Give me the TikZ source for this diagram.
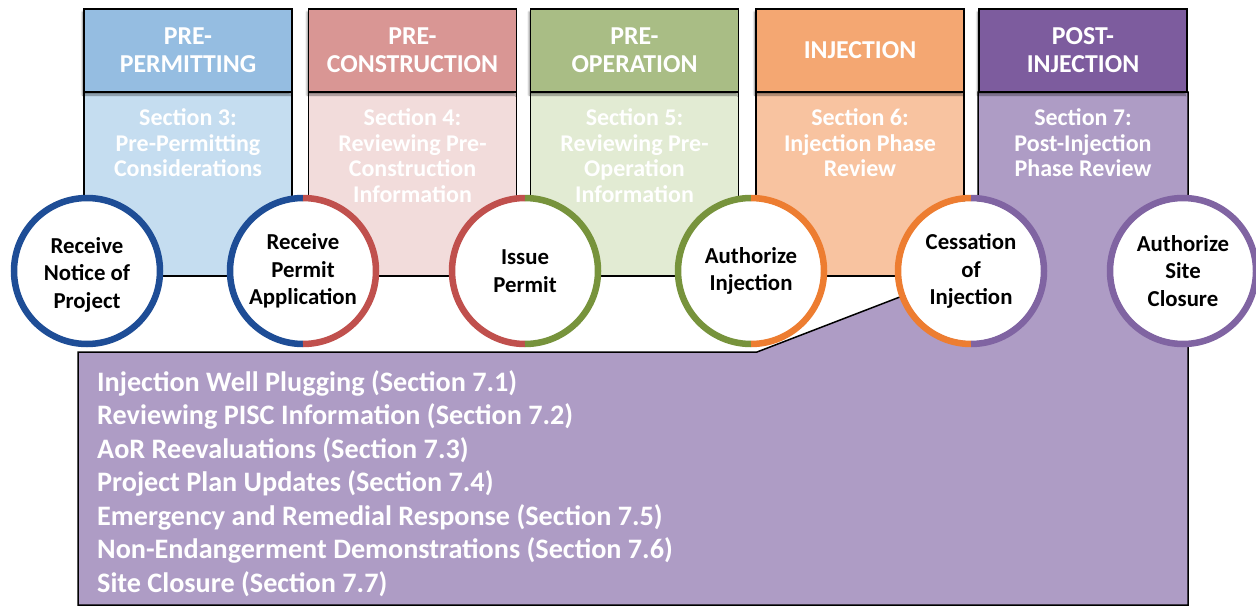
\documentclass[tikz,border=0pt]{standalone}
\usepackage{fontspec}
\setmainfont{Carlito}
\usetikzlibrary{shadows.blur}
\definecolor{blueH}{HTML}{95BDE1}
\definecolor{blueB}{HTML}{C5DDF0}
\definecolor{blueR}{HTML}{1E4D96}
\definecolor{redH}{HTML}{D99694}
\definecolor{redB}{HTML}{F2DCDB}
\definecolor{redR}{HTML}{C0504D}
\definecolor{greenH}{HTML}{A9BD85}
\definecolor{greenB}{HTML}{E2EBD3}
\definecolor{greenR}{HTML}{77933C}
\definecolor{orangeH}{HTML}{F4A772}
\definecolor{orangeB}{HTML}{F8C3A0}
\definecolor{orangeR}{HTML}{ED7D31}
\definecolor{purpleH}{HTML}{7D5C9E}
\definecolor{purpleB}{HTML}{AE9CC5}
\definecolor{purpleR}{HTML}{8064A2}
\pgfdeclarelayer{bg}
\pgfsetlayers{bg,main}
\begin{document}
\begin{tikzpicture}[x=1pt,y=-1pt,
  hdr/.style={draw=black,line width=1.6pt,minimum width=208pt,minimum height=83pt,inner sep=0,
    text=white,font=\bfseries\fontsize{25.8}{28}\selectfont,align=center,
    blur shadow={shadow xshift=-1.5pt,shadow yshift=-3pt,shadow blur steps=6,shadow opacity=45}},
  bodybox/.style={draw=black,line width=1.6pt,minimum width=208pt,minimum height=184pt,inner sep=0},
  bodytext/.style={text=white,font=\bfseries\fontsize{24}{25.5}\selectfont,align=center,inner sep=0,anchor=north},
  ctext/.style={circle,fill=white,minimum size=140pt,inner sep=0,align=center,
    font=\bfseries\fontsize{22.8}{27.5}\selectfont},
  ring/.style={line width=6.5pt},
  item/.style={text=white,font=\bfseries\fontsize{28.2}{33}\selectfont,anchor=base west,inner sep=0}]
\useasboundingbox (0,0) rectangle (1256,608);

% headers
\node[hdr,fill=blueH]   (h1) at (188,50.5)   {PRE-\\PERMITTING};
\node[hdr,fill=redH]    (h2) at (412.5,50.5) {PRE-\\CONSTRUCTION};
\node[hdr,fill=greenH]  (h3) at (634.5,50.5) {PRE-\\OPERATION};
\node[hdr,fill=orangeH] (h4) at (860,50.5)   {INJECTION};
\node[hdr,fill=purpleH] (h5) at (1083,50.5)  {POST-\\INJECTION};

% circles
\node[ctext] (c1) at (87,271)  {\raisebox{-3.5pt}[\height][\depth]{\parbox{100pt}{\centering Receive\\Notice of\\Project}}};
\node[ctext] (c2) at (303,271) {Receive\\Permit\\Application};
\node[ctext] (c3) at (525,271) {Issue\\Permit};
\node[ctext] (c4) at (751,271) {Authorize\\Injection};
\node[ctext] (c5) at (971,271) {Cessation\\of\\Injection};
\node[ctext] (c6) at (1183,271) {Authorize\\Site\\Closure};

\draw[ring,blueR] (c1.center) circle[radius=73];
\draw[ring,blueR] (c2.center) ++(90:73) arc[start angle=90,end angle=270,radius=73];
\draw[ring,redR]  (c2.center) ++(-90:73) arc[start angle=-90,end angle=90,radius=73];
\draw[ring,redR]  (c3.center) ++(90:73) arc[start angle=90,end angle=270,radius=73];
\draw[ring,greenR] (c3.center) ++(-90:73) arc[start angle=-90,end angle=90,radius=73];
\draw[ring,greenR] (c4.center) ++(90:73) arc[start angle=90,end angle=270,radius=73];
\draw[ring,orangeR] (c4.center) ++(-90:73) arc[start angle=-90,end angle=90,radius=73];
\draw[ring,orangeR] (c5.center) ++(90:73) arc[start angle=90,end angle=270,radius=73];
\draw[ring,purpleR] (c5.center) ++(-90:73) arc[start angle=-90,end angle=90,radius=73];
\draw[ring,purpleR] (c6.center) circle[radius=73];

\begin{pgfonlayer}{bg}
\node[bodybox,fill=blueB]   (b1) at (188,184)   {};
\node[bodybox,fill=redB]    (b2) at (412.5,184) {};
\node[bodybox,fill=greenB]  (b3) at (634.5,184) {};
\node[bodybox,fill=orangeB] (b4) at (860,184)   {};
\coordinate (k1) at (757,352);
\draw[draw=black,line width=1.5pt,fill=purpleB]
  (978,92) -- (1188,92) -- (1188,605) -- (78,605) -- (78,352) -- (k1)
  -- (c5.200) -- (c5.center) -- (978,276) -- cycle;
\end{pgfonlayer}

% body texts
\node[bodytext] (t1) at (188,108.5)   {Section 3:\\Pre-Permitting\\Considerations};
\node[bodytext] (t2) at (412.5,108.5) {Section 4:\\Reviewing Pre-\\Construction\\Information};
\node[bodytext] (t3) at (634.5,108.5) {Section 5:\\Reviewing Pre-\\Operation\\Information};
\node[bodytext] (t4) at (860,108.5)   {Section 6:\\Injection Phase\\Review};
\node[bodytext] (t5) at (1083,108.5)  {Section 7:\\Post-Injection\\Phase Review};

% list
\foreach \txt [count=\i] in {Injection Well Plugging (Section 7.1),
  Reviewing PISC Information (Section 7.2),
  AoR Reevaluations (Section 7.3),
  Project Plan Updates (Section 7.4),
  Emergency and Remedial Response (Section 7.5),
  Non-Endangerment Demonstrations (Section 7.6),
  Site Closure (Section 7.7)}
  \node[item] (item\i) at (97,{391+33.5*(\i-1)}) {\txt};
\end{tikzpicture}
\end{document}
